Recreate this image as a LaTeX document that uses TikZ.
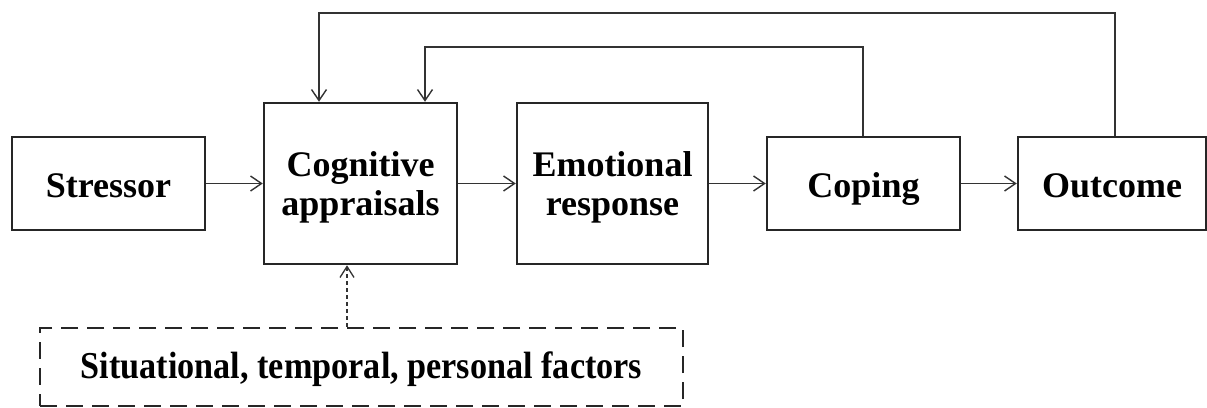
\documentclass[tikz,border=0pt]{standalone}
\usepackage{fontspec}
\setmainfont{Liberation Serif}
\usetikzlibrary{arrows.meta}
\begin{document}
\begin{tikzpicture}[x=1pt,y=-1pt,
  box/.style={draw=black!85, line width=2.5pt, inner sep=0pt, align=center,
    font=\fontsize{36}{39}\selectfont\bfseries},
  onebox/.style={box, minimum width=193pt, minimum height=93pt, text height=27pt, text depth=0pt},
  twobox/.style={box, minimum height=161pt},
  flow/.style={draw=black!80, line width=1.7pt, -{Straight Barb[length=11pt,width=15pt,line width=1.4pt]}},
  fback/.style={flow},
  dasharrow/.style={draw=black!80, line width=1.4pt, dash pattern=on 4pt off 3pt,
    -{Straight Barb[length=11pt,width=14pt,line width=1.3pt]}},
  factbox/.style={draw=black!85, line width=2.2pt, dash pattern=on 17pt off 9pt, inner sep=0pt,
    font=\fontsize{38}{40}\selectfont\bfseries, text height=22pt, text depth=0pt}
]
\clip (0,0) rectangle (1207,407);
\fill[white] (0,0) rectangle (1207,407);

\node[onebox] (stressor) at (108.5,183.5) {Stressor};
\node[twobox, minimum width=193pt] (cog) at (360.5,183.5) {\rule{0pt}{33pt}Cognitive\\appraisals};
\node[twobox, minimum width=191pt] (emo) at (612.5,183.5) {\rule{0pt}{33pt}Emotional\\response};
\node[onebox] (coping) at (863.5,183.5) {Coping};
\node[onebox, minimum width=188pt] (outcome) at (1112,183.5) {Outcome};
\node[factbox, minimum width=643pt, minimum height=78pt] (factors) at (361.5,367)
  {\scalebox{0.9}[1]{Situational, temporal, personal factors}};

\draw[flow] (stressor) -- (cog);
\draw[flow] (cog) -- (emo);
\draw[flow] (emo) -- (coping);
\draw[flow] (coping) -- (outcome);

\coordinate (t1) at (1115,13);
\coordinate (t1l) at (319,13);
\coordinate (t2) at (863,47);
\coordinate (t2l) at (425,47);
\draw[fback] (outcome.north -| t1) -- (t1) -- (t1l) -- (cog.north -| t1l);
\draw[fback] (coping.north -| t2) -- (t2) -- (t2l) -- (cog.north -| t2l);

\coordinate (da) at (347,300);
\draw[dasharrow] (factors.north -| da) -- (cog.south -| da);
\end{tikzpicture}
\end{document}
